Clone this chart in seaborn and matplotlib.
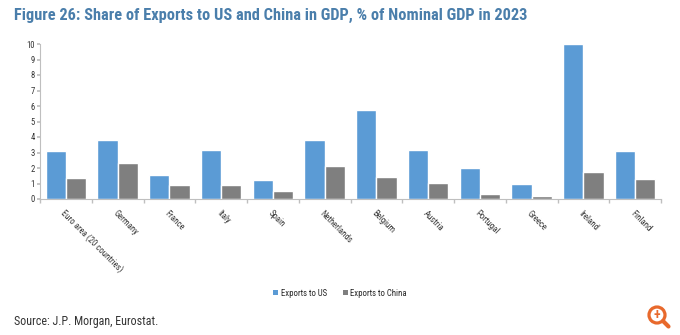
import matplotlib
matplotlib.use("Agg")
import matplotlib.pyplot as plt
import seaborn as sns
import pandas as pd
import numpy as np
from matplotlib import font_manager
from matplotlib.patches import Circle, Patch

countries = ["Euro area (20 countries)", "Germany", "France", "Italy", "Spain", "Netherlands",
             "Belgium", "Austria", "Portugal", "Greece", "Ireland", "Finland"]
exports_us = [3.1, 3.78, 1.55, 3.17, 1.25, 3.78, 5.72, 3.13, 1.97, 0.95, 10.0, 3.11]
exports_china = [1.38, 2.33, 0.89, 0.91, 0.5, 2.1, 1.4, 1.06, 0.3, 0.17, 1.75, 1.3]
series = ["Exports to US", "Exports to China"]
colors = ["#5b9bd5", "#7f7f7f"]

df = pd.DataFrame({
    "country": countries * 2,
    "value": exports_us + exports_china,
    "series": [series[0]] * len(countries) + [series[1]] * len(countries),
})

sns.set_theme(style="white")
names = {f.name for f in font_manager.fontManager.ttflist}
family = "Liberation Sans"
for cand in ["Liberation Sans Narrow", "Arial Narrow", "Roboto Condensed", "DejaVu Sans Condensed"]:
    if cand in names:
        family = cand
        break
plt.rcParams["font.family"] = [family, "DejaVu Sans"]

W, H = 680, 335
fig = plt.figure(figsize=(6.8, 3.35), dpi=100)
ax = fig.add_axes([40 / W, 1 - 199 / H, 621 / W, 155 / H])

sns.barplot(data=df, x="country", y="value", hue="series", palette=colors,
            order=countries, hue_order=series, width=0.78, saturation=1,
            ax=ax, legend=False)

ax.set_ylim(0, 10)
ax.set_xlim(-0.5, len(countries) - 0.5)
ax.set_yticks(range(0, 11))
ax.set_xlabel("")
ax.set_ylabel("")
for s in ["top", "right"]:
    ax.spines[s].set_visible(False)
for s in ["left", "bottom"]:
    ax.spines[s].set_color("#bfbfbf")
    ax.spines[s].set_linewidth(0.8)
ax.tick_params(axis="y", labelsize=6.2, length=2, color="#bfbfbf", pad=2, left=True, labelcolor="#333333")
ax.set_xticks(np.arange(len(countries)))
ax.set_xticklabels(countries, rotation=-45, ha="left", rotation_mode="anchor",
                   fontsize=6.3, color="#333333")
ax.tick_params(axis="x", length=0, pad=7)
ax.set_xticks(np.arange(-0.5, len(countries), 1), minor=True)
ax.tick_params(axis="x", which="minor", length=3, color="#bfbfbf", bottom=True)

handles = [Patch(facecolor=c, edgecolor="none") for c in colors]
fig.legend(handles, series, loc="center", bbox_to_anchor=(340 / W, 1 - 293 / H),
           ncol=2, frameon=False, fontsize=6.3, handlelength=0.6, handleheight=0.6,
           handletextpad=0.3, columnspacing=1.8)

renderer = fig.canvas.get_renderer()

def fit_text(x, y, s, width_px, size, **kw):
    t = fig.text(x / W, 1 - y / H, s, fontsize=size, va="center", ha="left", **kw)
    w = t.get_window_extent(renderer).width
    t.set_fontsize(size * width_px / w)
    return t

fit_text(14, 15, "Figure 26: Share of Exports to US and China in GDP, % of Nominal GDP in 2023",
         515, 11.5, fontweight="bold", color="#4a7eab")
fit_text(14, 322, "Source: J.P. Morgan, Eurostat.", 144, 8.5, color="#333333")

# magnifier icon
fig.add_artist(Circle((657, H - 315), 8, transform=None, fill=False,
                      edgecolor="#e8692c", linewidth=2.3))
fig.add_artist(plt.Line2D([663, 668.5], [H - 321, H - 326.5], transform=None,
                          color="#e8692c", linewidth=3, solid_capstyle="round"))
fig.text(657 / W, 1 - 315 / H, "+", fontsize=10, fontweight="bold", color="#e8692c",
         ha="center", va="center")

fig.savefig("out.png", dpi=100)
